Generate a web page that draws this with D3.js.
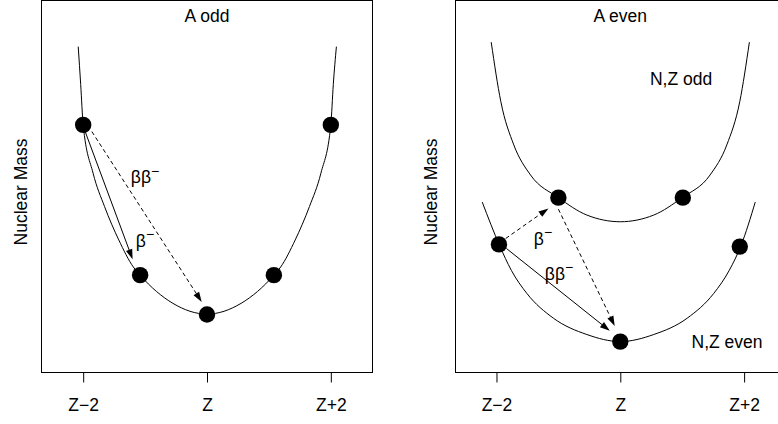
<!DOCTYPE html>
<html>
<head>
<meta charset="utf-8">
<script src="https://cdn.jsdelivr.net/npm/d3@7"></script>
<style>
  html, body { margin: 0; padding: 0; background: #fff; }
  svg { display: block; }
  text { font-family: "Liberation Sans", Arial, Helvetica, sans-serif; fill: #000; }
</style>
</head>
<body>
<svg id="chart" width="778" height="424"></svg>
<script>
// Axis ticks (proton number relative to Z)
const tickValues = [-2, 0, 2];
const tickLabels = ["Z\u22122", "Z", "Z+2"];

// A odd: single mass parabola
const oddCurveZ    = [-2.08, -2.04, -2.0, -1.84, -1.655, -1.425, -1.19, -1.08, -0.55, 0, 0.55, 1.08, 1.19, 1.425, 1.655, 1.84, 2.0, 2.04, 2.09];
const oddCurveMass = [87.7, 77.5, 66.6, 53.6, 44.6, 35.6, 28.3, 26.1, 18.5, 15.6, 18.5, 26.1, 28.3, 35.6, 44.6, 53.6, 66.6, 77.5, 87.7];
const oddNucleiZ    = [-2, -1.08, 0, 1.08, 2];
const oddNucleiMass = [66.6, 26.1, 15.5, 26.1, 66.6];

// A even: odd-odd (upper) and even-even (lower) parabolas
const oddOddCurveZ    = [-2.085, -1.93, -1.72, -1.45, -1.0, -0.54, 0, 0.54, 1.0, 1.45, 1.72, 1.93, 2.085];
const oddOddCurveMass = [88.9, 72.9, 61.2, 53.1, 47.0, 42.3, 40.5, 42.3, 47.0, 53.1, 61.2, 72.9, 88.9];
const oddOddNucleiZ    = [-1.0, 1.01];
const oddOddNucleiMass = [47.0, 47.0];

const evenEvenCurveZ    = [-2.23, -1.95, -1.76, -1.51, -1.08, -0.54, 0, 0.54, 1.08, 1.51, 1.76, 1.95, 2.18];
const evenEvenCurveMass = [45.8, 34.1, 27.4, 21.2, 14.5, 10.1, 8.2, 10.1, 14.5, 21.2, 27.4, 34.1, 45.8];
const evenEvenNucleiZ    = [-1.96, 0, 1.93];
const evenEvenNucleiMass = [34.4, 8.2, 33.8];

// Decay arrows: [z0, mass0, z1, mass1]
const oddArrowBeta   = [-1.968, 64.8, -1.202, 30.4];
const oddArrowDouble = [-1.86, 64.8, -0.085, 18.9];
const evenArrowBeta1 = [-1.85, 36.0, -1.16, 44.1];
const evenArrowBeta2 = [-1.0, 43.9, -0.09, 12.4];
const evenArrowDouble = [-1.84, 33.3, -0.17, 11.1];

const svg = d3.select("#chart");
const massDomain = [0, 100];
const zDomain = [-2.67, 2.67];

function makePanel(cfg) {
  const x = d3.scaleLinear().domain(zDomain).range([cfg.left, cfg.left + 330.6]);
  const y = d3.scaleLinear().domain(massDomain).range([372, 1]);
  const g = svg.append("g");

  // plot frame
  const x0 = Math.floor(cfg.left) + 0.5;
  g.append("rect")
    .attr("x", x0).attr("y", 0.5)
    .attr("width", 331).attr("height", 372)
    .attr("fill", "none").attr("stroke", "#000").attr("stroke-width", 1);

  // x axis
  const axis = d3.axisBottom(x)
    .tickValues(tickValues)
    .tickFormat((d, i) => tickLabels[i])
    .tickSize(10)
    .tickSizeOuter(0)
    .tickPadding(16);
  const ax = g.append("g").attr("transform", "translate(0,372.5)").call(axis);
  ax.select(".domain").remove();
  ax.selectAll(".tick line").attr("stroke", "#000");
  ax.selectAll(".tick text")
    .attr("font-size", "17.5px")
    .attr("font-family", "Liberation Sans, Arial, sans-serif")
    .attr("fill", "#000");

  // y axis label
  g.append("text")
    .attr("transform", `translate(${cfg.ylabelX},192) rotate(-90)`)
    .attr("text-anchor", "middle")
    .attr("font-size", "17.5px")
    .text("Nuclear Mass");

  // title
  g.append("text")
    .attr("x", x(0)).attr("y", 22)
    .attr("text-anchor", "middle")
    .attr("font-size", "17.5px")
    .text(cfg.title);

  const line = d3.line()
    .x(d => x(d[0])).y(d => y(d[1]))
    .curve(d3.curveMonotoneX);

  cfg.curves.forEach(c => {
    g.append("path")
      .datum(d3.zip(c.z, c.mass))
      .attr("d", line)
      .attr("fill", "none")
      .attr("stroke", "#000")
      .attr("stroke-width", 1);
  });

  cfg.arrows.forEach(a => {
    const px0 = x(a.v[0]), py0 = y(a.v[1]), px1 = x(a.v[2]), py1 = y(a.v[3]);
    const ang = Math.atan2(py1 - py0, px1 - px0);
    const len = 10, hw = 3.3;
    const bx = px1 - len * Math.cos(ang), by = py1 - len * Math.sin(ang);
    g.append("line")
      .attr("x1", px0).attr("y1", py0)
      .attr("x2", bx + 2 * Math.cos(ang)).attr("y2", by + 2 * Math.sin(ang))
      .attr("stroke", "#000").attr("stroke-width", 1)
      .attr("stroke-dasharray", a.dashed ? "4,3" : null);
    const pts = [
      [px1, py1],
      [bx + hw * Math.sin(ang), by - hw * Math.cos(ang)],
      [bx - hw * Math.sin(ang), by + hw * Math.cos(ang)]
    ];
    g.append("path")
      .attr("d", "M" + pts.map(p => p.join(",")).join("L") + "Z")
      .attr("fill", "#000");
  });

  cfg.nuclei.forEach(n => {
    g.selectAll(null)
      .data(d3.zip(n.z, n.mass))
      .join("circle")
      .attr("cx", d => x(d[0]))
      .attr("cy", d => y(d[1]))
      .attr("r", 8.2)
      .attr("fill", "#000");
  });

  cfg.labels.forEach(l => {
    const t = g.append("text")
      .attr("x", l.x).attr("y", l.y)
      .attr("text-anchor", "middle")
      .attr("font-size", "17.5px");
    t.append("tspan").text(l.main);
    if (l.sup) {
      t.append("tspan").attr("dy", -7.5).attr("font-size", "14px").text(l.sup);
    }
  });
}

makePanel({
  left: 41.7,
  ylabelX: 26.5,
  title: "A odd",
  curves: [{ z: oddCurveZ, mass: oddCurveMass }],
  nuclei: [{ z: oddNucleiZ, mass: oddNucleiMass }],
  arrows: [
    { v: oddArrowBeta, dashed: false },
    { v: oddArrowDouble, dashed: true }
  ],
  labels: [
    { x: 145, y: 183, main: "\u03b2\u03b2", sup: "\u2212" },
    { x: 145, y: 246.5, main: "\u03b2", sup: "\u2212" }
  ]
});

makePanel({
  left: 455,
  ylabelX: 436.5,
  title: "A even",
  curves: [
    { z: oddOddCurveZ, mass: oddOddCurveMass },
    { z: evenEvenCurveZ, mass: evenEvenCurveMass }
  ],
  nuclei: [
    { z: oddOddNucleiZ, mass: oddOddNucleiMass },
    { z: evenEvenNucleiZ, mass: evenEvenNucleiMass }
  ],
  arrows: [
    { v: evenArrowBeta1, dashed: true },
    { v: evenArrowBeta2, dashed: true },
    { v: evenArrowDouble, dashed: false }
  ],
  labels: [
    { x: 543, y: 244.5, main: "\u03b2", sup: "\u2212" },
    { x: 559, y: 279.5, main: "\u03b2\u03b2", sup: "\u2212" },
    { x: 681, y: 85, main: "N,Z odd" },
    { x: 727, y: 347.7, main: "N,Z even" }
  ]
});
</script>
</body>
</html>
